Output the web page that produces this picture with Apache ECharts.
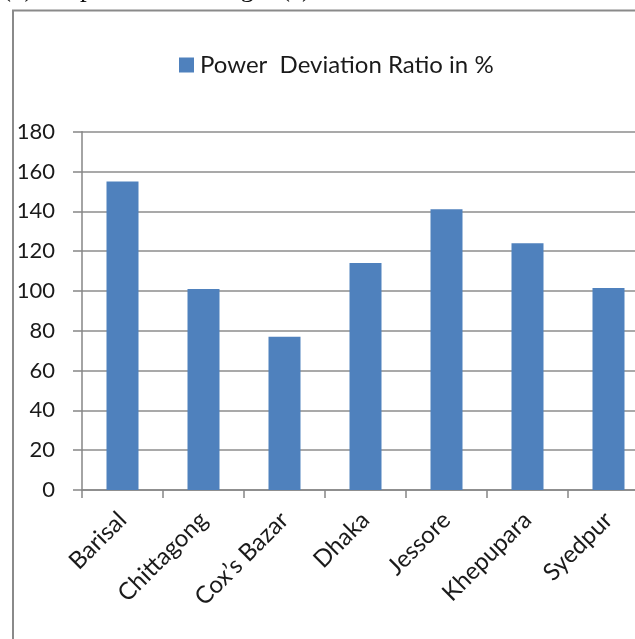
<!DOCTYPE html>
<html>
<head>
<meta charset="utf-8">
<script src="https://cdn.jsdelivr.net/npm/echarts@6/dist/echarts.min.js"></script>
<style>
html,body{margin:0;padding:0;background:#fff;overflow:hidden;width:635px;height:639px;}
#main{width:660px;height:639px;}
</style>
</head>
<body>
<div id="main"></div>
<script>
const categories = ["Barisal", "Chittagong", "Cox\u2019s Bazar", "Dhaka", "Jessore", "Khepupara", "Syedpur"];
const seriesName = "Power  Deviation Ratio in %";
const values = [155, 101, 77, 114, 141, 124, 101.5];
const yTicks = { min: 0, max: 180, interval: 20 };
const captionText = "(b) are presented in Fig. 6(a).";

const chart = echarts.init(document.getElementById('main'), null, { renderer: 'canvas' });
const FONT = 'Lato';
chart.setOption({
  animation: false,
  backgroundColor: '#ffffff',
  graphic: [
    {
      type: 'rect',
      shape: { x: 13, y: 10.5, width: 800, height: 800 },
      style: { fill: 'none', stroke: '#8a8a8a', lineWidth: 2 },
      silent: true
    },
    {
      type: 'text',
      left: 2,
      top: -25,
      style: { text: captionText, font: '27px "Liberation Serif"', fill: '#111' },
      silent: true
    }
  ],
  legend: {
    left: 174,
    top: 48,
    itemWidth: 15,
    itemHeight: 15,
    itemGap: 6,
    icon: 'rect',
    textStyle: { fontFamily: FONT, fontSize: 24, color: '#1a1a1a', padding: [0, 0, 0, 1] },
    data: [seriesName]
  },
  grid: { left: 82, top: 131.7, width: 567, height: 358.3, containLabel: false },
  xAxis: {
    type: 'category',
    data: categories,
    boundaryGap: true,
    axisLine: { show: true, lineStyle: { color: '#868686', width: 1.5 } },
    axisTick: { show: true, alignWithLabel: false, length: 8, lineStyle: { color: '#868686', width: 1.5 } },
    axisLabel: {
      rotate: 45,
      margin: 26,
      interval: 0,
      fontFamily: FONT,
      fontSize: 24,
      color: '#1a1a1a'
    }
  },
  yAxis: {
    type: 'value',
    min: yTicks.min,
    max: yTicks.max,
    interval: yTicks.interval,
    axisLine: { show: true, lineStyle: { color: '#868686', width: 1.5 } },
    axisTick: { show: true, length: 9, lineStyle: { color: '#868686', width: 1.5 } },
    splitLine: { show: true, lineStyle: { color: '#8c8c8c', width: 1.5 } },
    axisLabel: { margin: 27, fontFamily: FONT, fontSize: 22, color: '#1a1a1a' }
  },
  series: [
    {
      name: seriesName,
      type: 'bar',
      data: values,
      barWidth: 32,
      itemStyle: { color: '#4F81BD' }
    }
  ]
});
</script>
</body>
</html>
